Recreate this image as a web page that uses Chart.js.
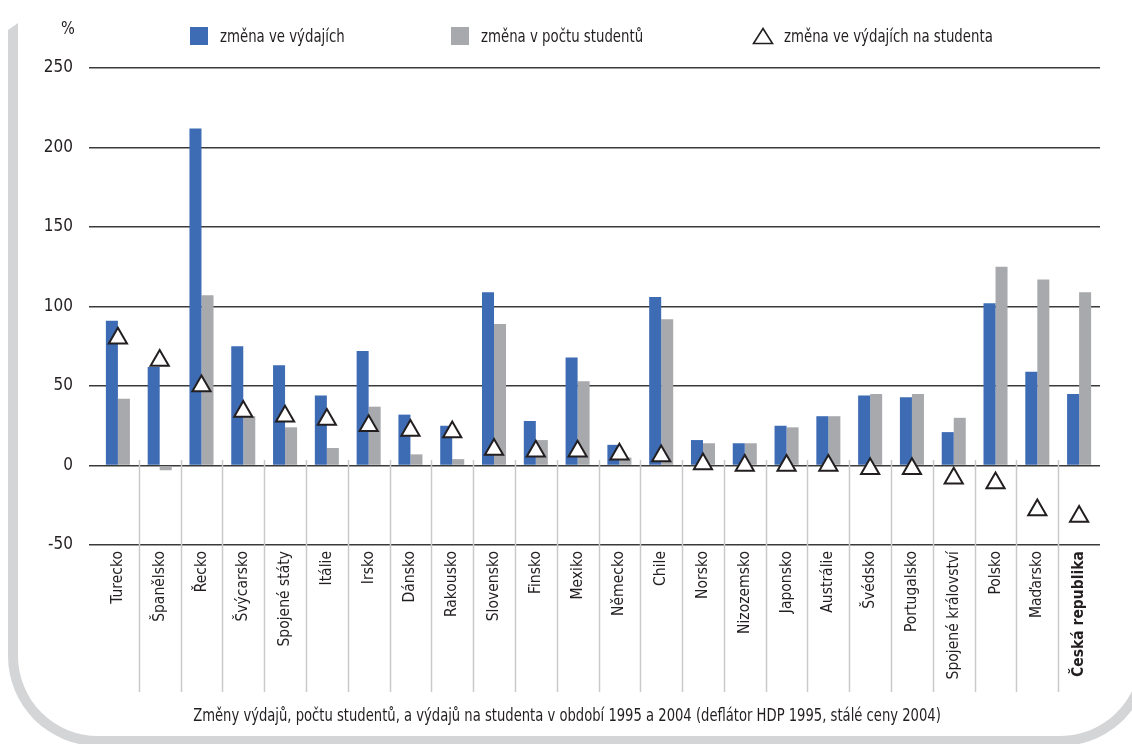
<!DOCTYPE html>
<html>
<head>
<meta charset="utf-8">
<script src="https://cdn.jsdelivr.net/npm/chart.js@4.4.0/dist/chart.umd.min.js"></script>
<style>
    html, body{ margin:0; padding:0; background:#fff; overflow:hidden; }
    #wrap{ position:relative; width:1132px; height:744px; overflow:hidden;
        font-family:"DejaVu Sans Condensed","Liberation Sans Narrow",sans-serif; color:#231f20; }
    #chart{ position:absolute; left:0; top:0; }
    #pct{ position:absolute; left:61px; top:17px; font-size:18px; transform:scaleX(0.9); transform-origin:left; }
    .leg{ position:absolute; top:26px; font-size:17px; line-height:20px; white-space:nowrap; }
    .leg i{ position:absolute; top:1px; width:18px; height:18px; }
    .leg svg{ position:absolute; top:1px; }
    .leg span{ display:inline-block; transform:scaleX(0.87); transform-origin:left; }
    #caption{ position:absolute; left:0; width:1132px; top:705px; text-align:center; font-size:17px;
        white-space:nowrap; transform:scaleX(0.86); transform-origin:573px 0; }
</style>
</head>
<body>
<div id="wrap">
    <canvas id="chart" width="1132" height="744"></canvas>
    <div id="pct">%</div>
    <div id="legend"></div>
    <div id="caption">Změny výdajů, počtu studentů, a výdajů na studenta v období 1995 a 2004 (deflátor HDP 1995, stálé ceny 2004)</div>
</div>
<script>
const FONT = '"DejaVu Sans Condensed","Liberation Sans Narrow",sans-serif';

const countries = ["Turecko","Španělsko","Řecko","Švýcarsko","Spojené státy","Itálie","Irsko","Dánsko",
    "Rakousko","Slovensko","Finsko","Mexiko","Německo","Chile","Norsko","Nizozemsko","Japonsko",
    "Austrálie","Švédsko","Portugalsko","Spojené království","Polsko","Maďarsko","Česká republika"];

const spending    = [91, 62, 212, 75, 63, 44, 72, 32, 25, 109, 28, 68, 13, 106, 16, 14, 25, 31, 44, 43, 21, 102, 59, 45];
const students    = [42, -3, 107, 31, 24, 11, 37, 7, 4, 89, 16, 53, 5, 92, 14, 14, 24, 31, 45, 45, 30, 125, 117, 109];
const perStudent  = [80, 66, 50, 34, 31, 29, 25, 22, 21, 10, 9, 9, 7, 6, 1, 0, 0, 0, -2, -2, -8, -11, -28, -32];

const seriesNames = ["změna ve výdajích","změna v počtu studentů","změna ve výdajích na studenta"];
const yTicks = [-50, 0, 50, 100, 150, 200, 250];

const BLUE = "#3d6bb4";
const GREY = "#a8a9ad";

function buildLegend(){
    let legend = document.getElementById("legend");
    let xs = [190, 451, 752];
    seriesNames.forEach((name, i)=>{
        let d = document.createElement("div");
        d.className = "leg";
        d.style.left = xs[i] + "px";
        let mark;
        if(i < 2){
            mark = `<i style="left:0;background:${i==0?BLUE:GREY}"></i>`;
        } else {
            mark = `<svg width="22" height="18" style="left:0"><polygon points="11,1.5 20.5,16.5 1.5,16.5" fill="#fff" stroke="#231f20" stroke-width="1.6"/></svg>`;
        }
        d.innerHTML = mark + `<span style="margin-left:${i<2?30:32}px">${name}</span>`;
        legend.appendChild(d);
    });
}

// grey frame: left side, bottom, and the start of the right corner
const frame = {
    id: "frame",
    beforeDraw(chart){
        let ctx = chart.ctx;
        ctx.save();
        ctx.fillStyle = "#d4d5d7";
        ctx.beginPath();
        ctx.moveTo(8, 30);
        ctx.lineTo(18, 23);
        ctx.lineTo(18, 656);
        ctx.arc(98, 656, 80, Math.PI, Math.PI / 2, true);
        ctx.lineTo(1060, 736);
        ctx.lineTo(1060, 746);
        ctx.lineTo(98, 746);
        ctx.arc(98, 656, 90, Math.PI / 2, Math.PI, false);
        ctx.closePath();
        ctx.fill();

        // right corner as a quarter ring, built point by point
        ctx.beginPath();
        let steps = 24;
        for(let k = 0; k <= steps; k++){
            let a = Math.PI / 2 - (Math.PI / 2) * k / steps;
            let px = 1060 + 80 * Math.cos(a), py = 656 + 80 * Math.sin(a);
            if(k === 0) ctx.moveTo(px, py); else ctx.lineTo(px, py);
        }
        for(let k = 0; k <= steps; k++){
            let a = (Math.PI / 2) * k / steps;
            ctx.lineTo(1060 + 90 * Math.cos(a), 656 + 90 * Math.sin(a));
        }
        ctx.closePath();
        ctx.fill();
        ctx.restore();
    }
};

const separators = {
    id: "separators",
    beforeDatasetsDraw(chart){
        let x = chart.scales.x;
        let ctx = chart.ctx;
        ctx.save();
        ctx.strokeStyle = "#c9cacc";
        ctx.lineWidth = 1.5;
        for(let i = 0; i < countries.length - 1; i++){
            let px = Math.round((x.getPixelForValue(i) + x.getPixelForValue(i + 1)) / 2) + 0.5;
            ctx.beginPath();
            ctx.moveTo(px, 460);
            ctx.lineTo(px, 692);
            ctx.stroke();
        }
        ctx.restore();
    }
};

buildLegend();

new Chart(document.getElementById("chart"), {
    type: "bar",
    data: {
        labels: countries,
        datasets: [
            {
                type: "line",
                label: seriesNames[2],
                data: perStudent,
                showLine: false,
                pointStyle: "triangle",
                pointRadius: 10.5,
                pointHoverRadius: 10.5,
                pointBackgroundColor: "#fff",
                pointBorderColor: "#231f20",
                pointBorderWidth: 2,
                order: 0
            },
            {
                label: seriesNames[0],
                data: spending,
                backgroundColor: BLUE,
                categoryPercentage: 0.575,
                barPercentage: 1,
                order: 1
            },
            {
                label: seriesNames[1],
                data: students,
                backgroundColor: GREY,
                categoryPercentage: 0.575,
                barPercentage: 1,
                order: 1
            }
        ]
    },
    options: {
        responsive: false,
        animation: false,
        devicePixelRatio: 1,
        layout: { padding: { left: 0, right: 32, top: 68, bottom: 49 } },
        plugins: { legend: { display: false }, tooltip: { enabled: false } },
        scales: {
            x: {
                grid: { display: false, drawTicks: false },
                border: { display: false },
                ticks: {
                    autoSkip: false,
                    maxRotation: 90,
                    minRotation: 90,
                    padding: 6,
                    color: "#231f20",
                    font: c => ({ family: FONT, size: 15.5, weight: c.index === countries.length - 1 ? "bold" : "normal" })
                },
                afterFit: s => { s.height = 150; }
            },
            y: {
                min: -50,
                max: 250,
                afterBuildTicks: s => { s.ticks = yTicks.map(v => ({ value: v })); },
                grid: { color: "#3a3a3a", lineWidth: 1.5, tickLength: 8 },
                border: { display: false },
                ticks: { padding: 16, color: "#231f20", font: { family: FONT, size: 17 } },
                afterFit: s => { s.width = 97; }
            }
        }
    },
    plugins: [frame, separators]
});
</script>
</body>
</html>
